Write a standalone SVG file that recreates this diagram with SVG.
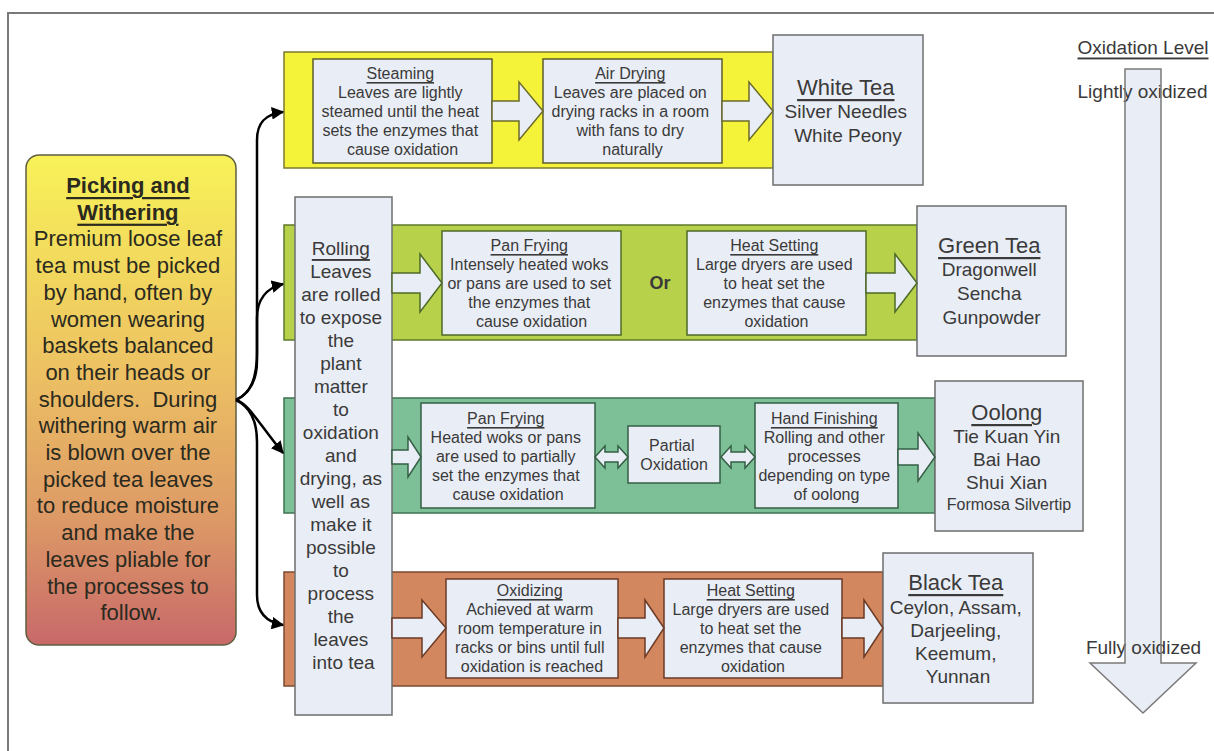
<svg xmlns="http://www.w3.org/2000/svg" width="1214" height="751" viewBox="0 0 1214 751">
<defs>
<linearGradient id="gPick" x1="0" y1="0" x2="0" y2="1">
<stop offset="0" stop-color="#f8f258"/>
<stop offset="0.45" stop-color="#ecc063"/>
<stop offset="0.75" stop-color="#dc9866"/>
<stop offset="1" stop-color="#c8696a"/>
</linearGradient>
<marker id="ah" viewBox="0 0 10 10" refX="9" refY="5" markerWidth="5" markerHeight="5" orient="auto" markerUnits="strokeWidth">
<path d="M0,0 L10,5 L0,10 Z" fill="#000"/>
</marker>
<style>
.t{font-family:"Liberation Sans",Arial,sans-serif;fill:#3a3a3a;text-anchor:middle;dominant-baseline:central}
.s16{font-size:16px}
.s19{font-size:19px}
.s22{font-size:22px}
.u{text-decoration:underline}
.bold{font-weight:bold}
.box{fill:#e9edf5;stroke-width:1.5}
.tea{fill:#e9edf5;stroke:#6e6e6e;stroke-width:1.5}
.arr{fill:#e9edf5;stroke-width:1.5}
.conn{fill:none;stroke:#000;stroke-width:2.5;marker-end:url(#ah)}
</style>
</defs>

<path d="M8,751 V13 H1214" fill="none" stroke="#7a7a7a" stroke-width="2"/>

<!-- bands -->
<g id="band-white">
<rect x="284" y="52" width="489" height="116" fill="#f5f23a" stroke="#7c7a30" stroke-width="1.5"/>
</g>
<g id="band-green">
<rect x="284" y="225" width="633" height="115" fill="#b7d24a" stroke="#5f7a2c" stroke-width="1.5"/>
</g>
<g id="band-oolong">
<rect x="284" y="398" width="651" height="115" fill="#7dbf96" stroke="#3d7352" stroke-width="1.5"/>
</g>
<g id="band-black">
<rect x="284" y="572" width="599" height="114" fill="#d3875f" stroke="#7d4a30" stroke-width="1.5"/>
</g>

<!-- Rolling -->
<g id="rolling">
<rect x="295" y="197" width="97" height="518" class="tea"/>
<text class="t s19" x="343.5">
<tspan x="343.5" y="248" class="u">Rolling</tspan>
<tspan x="343.5" y="271">Leaves</tspan>
<tspan x="343.5" y="294">are rolled</tspan>
<tspan x="343.5" y="317">to expose</tspan>
<tspan x="343.5" y="340">the</tspan>
<tspan x="343.5" y="363">plant</tspan>
<tspan x="343.5" y="386">matter</tspan>
<tspan x="343.5" y="409">to</tspan>
<tspan x="343.5" y="432">oxidation</tspan>
<tspan x="343.5" y="455">and</tspan>
<tspan x="343.5" y="478">drying, as</tspan>
<tspan x="343.5" y="501">well as</tspan>
<tspan x="343.5" y="524">make it</tspan>
<tspan x="343.5" y="547">possible</tspan>
<tspan x="343.5" y="570">to</tspan>
<tspan x="343.5" y="593">process</tspan>
<tspan x="343.5" y="616">the</tspan>
<tspan x="343.5" y="639">leaves</tspan>
<tspan x="343.5" y="662">into tea</tspan>
</text>
</g>

<!-- White row -->
<g id="steaming">
<rect x="313" y="59" width="179" height="104" class="box" stroke="#5c5c2e"/>
<text class="t s16">
<tspan x="402.5" y="73" class="u">Steaming</tspan>
<tspan x="402.5" y="92">Leaves are lightly</tspan>
<tspan x="402.5" y="111">steamed until the heat</tspan>
<tspan x="402.5" y="130">sets the enzymes that</tspan>
<tspan x="402.5" y="149">cause oxidation</tspan>
</text>
</g>
<g id="air-drying">
<rect x="543" y="59" width="179" height="104" class="box" stroke="#5c5c2e"/>
<text class="t s16">
<tspan x="632.5" y="73" class="u">Air Drying</tspan>
<tspan x="632.5" y="92">Leaves are placed on</tspan>
<tspan x="632.5" y="111">drying racks in a room</tspan>
<tspan x="632.5" y="130">with fans to dry</tspan>
<tspan x="632.5" y="149">naturally</tspan>
</text>
</g>
<g id="white-tea">
<rect x="773" y="35" width="150" height="150" class="tea"/>
<text class="t">
<tspan x="848" y="87" class="s22 u">White Tea</tspan>
<tspan x="848" y="111" class="s19">Silver Needles</tspan>
<tspan x="848" y="135" class="s19">White Peony</tspan>
</text>
</g>

<!-- Green row -->
<g id="green-pan-frying">
<rect x="442" y="231" width="179" height="104" class="box" stroke="#4e6a28"/>
<text class="t s16">
<tspan x="531.5" y="245" class="u">Pan Frying</tspan>
<tspan x="531.5" y="264">Intensely heated woks</tspan>
<tspan x="531.5" y="283">or pans are used to set</tspan>
<tspan x="531.5" y="302">the enzymes that</tspan>
<tspan x="531.5" y="321">cause oxidation</tspan>
</text>
</g>
<g id="green-or">
<text class="t bold" style="font-size:18px" x="660" y="283">Or</text>
</g>
<g id="green-heat-setting">
<rect x="687" y="231" width="179" height="104" class="box" stroke="#4e6a28"/>
<text class="t s16">
<tspan x="776.5" y="245" class="u">Heat Setting</tspan>
<tspan x="776.5" y="264">Large dryers are used</tspan>
<tspan x="776.5" y="283">to heat set the</tspan>
<tspan x="776.5" y="302">enzymes that cause</tspan>
<tspan x="776.5" y="321">oxidation</tspan>
</text>
</g>
<g id="green-tea">
<rect x="917" y="206" width="149" height="150" class="tea"/>
<text class="t">
<tspan x="991.5" y="245" class="s22 u">Green Tea</tspan>
<tspan x="991.5" y="269" class="s19">Dragonwell</tspan>
<tspan x="991.5" y="293" class="s19">Sencha</tspan>
<tspan x="991.5" y="317" class="s19">Gunpowder</tspan>
</text>
</g>

<!-- Oolong row -->
<g id="oolong-pan-frying">
<rect x="421" y="403" width="174" height="105" class="box" stroke="#355f45"/>
<text class="t s16">
<tspan x="508" y="418" class="u">Pan Frying</tspan>
<tspan x="508" y="437">Heated woks or pans</tspan>
<tspan x="508" y="456">are used to partially</tspan>
<tspan x="508" y="475">set the enzymes that</tspan>
<tspan x="508" y="494">cause oxidation</tspan>
</text>
</g>
<g id="partial-oxidation">
<rect x="628" y="426" width="92" height="57" class="box" stroke="#355f45"/>
<text class="t s16">
<tspan x="674" y="445">Partial</tspan>
<tspan x="674" y="464">Oxidation</tspan>
</text>
</g>
<g id="hand-finishing">
<rect x="755" y="403" width="143" height="105" class="box" stroke="#355f45"/>
<text class="t s16">
<tspan x="826.5" y="418" class="u">Hand Finishing</tspan>
<tspan x="826.5" y="437">Rolling and other</tspan>
<tspan x="826.5" y="456">processes</tspan>
<tspan x="826.5" y="475">depending on type</tspan>
<tspan x="826.5" y="494">of oolong</tspan>
</text>
</g>
<g id="oolong">
<rect x="935" y="381" width="148" height="150" class="tea"/>
<text class="t">
<tspan x="1009" y="412" class="s22 u">Oolong</tspan>
<tspan x="1009" y="436" class="s19">Tie Kuan Yin</tspan>
<tspan x="1009" y="459" class="s19">Bai Hao</tspan>
<tspan x="1009" y="482" class="s19">Shui Xian</tspan>
<tspan x="1009" y="504" class="s16">Formosa Silvertip</tspan>
</text>
</g>

<!-- Black row -->
<g id="oxidizing">
<rect x="446" y="579" width="172" height="99" class="box" stroke="#6b3b26"/>
<text class="t s16">
<tspan x="532" y="590" class="u">Oxidizing</tspan>
<tspan x="532" y="609">Achieved at warm</tspan>
<tspan x="532" y="628">room temperature in</tspan>
<tspan x="532" y="647">racks or bins until full</tspan>
<tspan x="532" y="666">oxidation is reached</tspan>
</text>
</g>
<g id="black-heat-setting">
<rect x="664" y="579" width="178" height="99" class="box" stroke="#6b3b26"/>
<text class="t s16">
<tspan x="753" y="590" class="u">Heat Setting</tspan>
<tspan x="753" y="609">Large dryers are used</tspan>
<tspan x="753" y="628">to heat set the</tspan>
<tspan x="753" y="647">enzymes that cause</tspan>
<tspan x="753" y="666">oxidation</tspan>
</text>
</g>
<g id="black-tea">
<rect x="883" y="553" width="150" height="150" class="tea"/>
<text class="t">
<tspan x="958" y="582" class="s22 u">Black Tea</tspan>
<tspan x="958" y="607" class="s19">Ceylon, Assam,</tspan>
<tspan x="958" y="630" class="s19">Darjeeling,</tspan>
<tspan x="958" y="653" class="s19">Keemum,</tspan>
<tspan x="958" y="676" class="s19">Yunnan</tspan>
</text>
</g>

<!-- Picking and Withering -->
<g id="picking-withering">
<rect x="26" y="155" width="210" height="490" rx="13" ry="13" fill="url(#gPick)" stroke="#5f5f3f" stroke-width="1.5"/>
<text class="t s22" style="fill:#2b2a1e">
<tspan x="131" y="185" class="bold u">Picking and</tspan>
<tspan x="131" y="211.7" class="bold u">Withering</tspan>
<tspan x="131" y="238.4">Premium loose leaf</tspan>
<tspan x="131" y="265.1">tea must be picked</tspan>
<tspan x="131" y="291.8">by hand, often by</tspan>
<tspan x="131" y="318.5">women wearing</tspan>
<tspan x="131" y="345.2">baskets balanced</tspan>
<tspan x="131" y="371.9">on their heads or</tspan>
<tspan x="131" y="398.6" style="white-space:pre">shoulders.  During</tspan>
<tspan x="131" y="425.3">withering warm air</tspan>
<tspan x="131" y="452">is blown over the</tspan>
<tspan x="131" y="478.7">picked tea leaves</tspan>
<tspan x="131" y="505.4">to reduce moisture</tspan>
<tspan x="131" y="532.1">and make the</tspan>
<tspan x="131" y="558.8">leaves pliable for</tspan>
<tspan x="131" y="585.5">the processes to</tspan>
<tspan x="131" y="612.2">follow.</tspan>
</text>
</g>

<!-- Connectors -->
<g id="connectors">
<path class="arr" stroke="#6a6a2c" d="M492,101 H519 V82 L543,111 L519,140 V121 H492 Z"/>
<path class="arr" stroke="#6a6a2c" d="M722,101 H749 V82 L773,111 L749,140 V121 H722 Z"/>
<path class="arr" stroke="#4e6a28" d="M392,273 H420 V254 L442,283 L420,312 V293 H392 Z"/>
<path class="arr" stroke="#4e6a28" d="M866,273 H895 V254 L917,283 L895,312 V293 H866 Z"/>
<path class="arr" stroke="#355f45" d="M392,450 H408 V437 L421,457 L408,477 V464 H392 Z"/>
<path class="arr" stroke="#355f45" d="M595,457 L605,446 V452 H618 V446 L628,457 L618,468 V462 H605 V468 Z"/>
<path class="arr" stroke="#355f45" d="M721,457 L731,446 V452 H745 V446 L755,457 L745,468 V462 H731 V468 Z"/>
<path class="arr" stroke="#355f45" d="M898,449 H918 V433 L935,457 L918,481 V465 H898 Z"/>
<path class="arr" stroke="#6b3b26" d="M392,618 H422 V600 L446,628 L422,657 V638 H392 Z"/>
<path class="arr" stroke="#6b3b26" d="M618,618 H645 V600 L664,628 L645,657 V638 H618 Z"/>
<path class="arr" stroke="#6b3b26" d="M842,618 H864 V600 L883,628 L864,657 V638 H842 Z"/>
<path class="conn" d="M236,400 C251,393 257,378 257,352 L257,140 C257,122 266,114 283,112"/>
<path class="conn" d="M236,400 C251,393 257,380 257,360 L257,318 C257,300 266,288 283,284"/>
<path class="conn" d="M236,400 C249,404 259,424 283,453"/>
<path class="conn" d="M236,400 C251,407 257,422 257,442 L257,595 C257,612 266,622 283,625"/>
</g>

<!-- Oxidation level -->
<g id="oxidation-level">
<path d="M1125,69 H1161 V663 H1196 L1143,713 L1090,663 H1125 Z" fill="#e9edf5"/>
<text class="t s19 u" x="1143" y="47">Oxidation Level</text>
<text class="t s19" x="1142.5" y="91">Lightly oxidized</text>
<text class="t s19" x="1143.5" y="647">Fully oxidized</text>
<path d="M1125,69 H1161 V663 H1196 L1143,713 L1090,663 H1125 Z" fill="none" stroke="#7a7a7a" stroke-width="1.5"/>
</g>
</svg>
